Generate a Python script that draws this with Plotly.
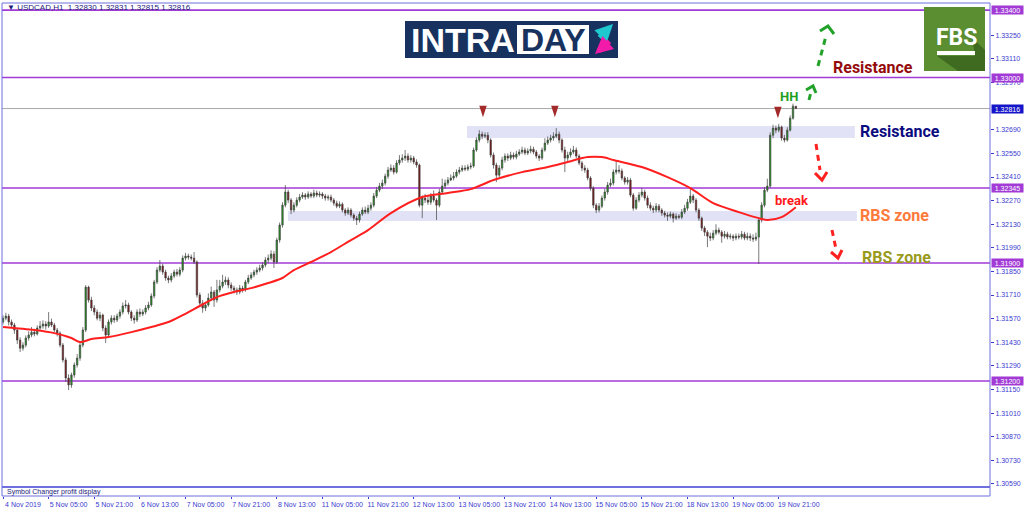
import plotly.graph_objects as go

# ---------------- data ----------------
time_labels = ["4 Nov 2019", "5 Nov 05:00", "5 Nov 21:00", "6 Nov 13:00", "7 Nov 05:00",
               "7 Nov 21:00", "8 Nov 13:00", "11 Nov 05:00", "11 Nov 21:00", "12 Nov 13:00",
               "13 Nov 05:00", "13 Nov 21:00", "14 Nov 13:00", "15 Nov 05:00", "15 Nov 21:00",
               "18 Nov 13:00", "19 Nov 05:00", "19 Nov 21:00"]
label_bars = [0, 16, 32, 48, 64, 80, 96, 112, 128, 144, 160, 176, 192, 208, 224, 240, 256, 272]

opens = [
    1.31550, 1.31573, 1.31585, 1.31550, 1.31532, 1.31502, 1.31443, 1.31395, 1.31413, 1.31455,
    1.31473, 1.31490, 1.31479, 1.31514, 1.31526, 1.31538, 1.31526, 1.31550, 1.31532, 1.31502,
    1.31484, 1.31413, 1.31325, 1.31218, 1.31177, 1.31236, 1.31295, 1.31336, 1.31413, 1.31502,
    1.31757, 1.31680, 1.31633, 1.31609, 1.31573, 1.31591, 1.31514, 1.31473, 1.31550, 1.31573,
    1.31562, 1.31585, 1.31609, 1.31645, 1.31651, 1.31609, 1.31573, 1.31562, 1.31609, 1.31597,
    1.31609, 1.31633, 1.31651, 1.31704, 1.31787, 1.31858, 1.31882, 1.31846, 1.31811, 1.31799,
    1.31823, 1.31846, 1.31834, 1.31858, 1.31929, 1.31941, 1.31935, 1.31929, 1.31906, 1.31710,
    1.31662, 1.31633, 1.31651, 1.31692, 1.31728, 1.31680, 1.31740, 1.31763, 1.31787, 1.31799,
    1.31769, 1.31751, 1.31740, 1.31728, 1.31751, 1.31740, 1.31787, 1.31811, 1.31829, 1.31846,
    1.31858, 1.31870, 1.31888, 1.31918, 1.31929, 1.31953, 1.31906, 1.32036, 1.32125, 1.32243,
    1.32321, 1.32273, 1.32214, 1.32243, 1.32273, 1.32291, 1.32303, 1.32291, 1.32309, 1.32297,
    1.32315, 1.32303, 1.32309, 1.32297, 1.32285, 1.32291, 1.32273, 1.32255, 1.32237, 1.32249,
    1.32214, 1.32196, 1.32214, 1.32184, 1.32166, 1.32155, 1.32190, 1.32214, 1.32202, 1.32225,
    1.32243, 1.32297, 1.32332, 1.32356, 1.32374, 1.32415, 1.32451, 1.32463, 1.32439, 1.32493,
    1.32511, 1.32522, 1.32534, 1.32511, 1.32522, 1.32499, 1.32481, 1.32243, 1.32285, 1.32273,
    1.32261, 1.32297, 1.32273, 1.32243, 1.32321, 1.32356, 1.32374, 1.32392, 1.32404, 1.32415,
    1.32439, 1.32451, 1.32463, 1.32457, 1.32469, 1.32475, 1.32570, 1.32629, 1.32664, 1.32652,
    1.32658, 1.32629, 1.32540, 1.32481, 1.32421, 1.32463, 1.32511, 1.32534, 1.32522, 1.32540,
    1.32528, 1.32546, 1.32558, 1.32570, 1.32552, 1.32564, 1.32575, 1.32558, 1.32534, 1.32522,
    1.32570, 1.32611, 1.32629, 1.32641, 1.32652, 1.32664, 1.32629, 1.32570, 1.32522, 1.32540,
    1.32558, 1.32570, 1.32534, 1.32493, 1.32463, 1.32451, 1.32404, 1.32344, 1.32243, 1.32214,
    1.32237, 1.32285, 1.32321, 1.32362, 1.32374, 1.32439, 1.32451, 1.32445, 1.32404, 1.32380,
    1.32392, 1.32303, 1.32225, 1.32273, 1.32303, 1.32321, 1.32285, 1.32243, 1.32225, 1.32214,
    1.32237, 1.32214, 1.32196, 1.32184, 1.32178, 1.32190, 1.32166, 1.32178, 1.32172, 1.32202,
    1.32225, 1.32261, 1.32297, 1.32273, 1.32214, 1.32166, 1.32107, 1.32083, 1.32059, 1.32048,
    1.32077, 1.32095, 1.32083, 1.32059, 1.32071, 1.32054, 1.32059, 1.32048, 1.32059, 1.32054,
    1.32071, 1.32048, 1.32059, 1.32048, 1.32042, 1.32054, 1.32155, 1.32243, 1.32332, 1.32356,
    1.32658, 1.32700, 1.32688, 1.32706, 1.32641, 1.32629, 1.32688, 1.32759, 1.32830]

highs = [
    1.31590, 1.31605, 1.31598, 1.31565, 1.31545, 1.31515, 1.31460, 1.31430, 1.31470, 1.31495,
    1.31520, 1.31510, 1.31530, 1.31555, 1.31560, 1.31555, 1.31609, 1.31570, 1.31545, 1.31515,
    1.31495, 1.31425, 1.31340, 1.31240, 1.31250, 1.31310, 1.31360, 1.31430, 1.31520, 1.31769,
    1.31765, 1.31700, 1.31650, 1.31625, 1.31610, 1.31600, 1.31530, 1.31565, 1.31590, 1.31590,
    1.31600, 1.31625, 1.31665, 1.31680, 1.31665, 1.31620, 1.31590, 1.31625, 1.31630, 1.31625,
    1.31650, 1.31670, 1.31720, 1.31800, 1.31875, 1.31918, 1.31895, 1.31860, 1.31825, 1.31840,
    1.31860, 1.31865, 1.31875, 1.31945, 1.31960, 1.31955, 1.31950, 1.31965, 1.31915, 1.31725,
    1.31680, 1.31670, 1.31720, 1.31760, 1.31740, 1.31800, 1.31800, 1.31830, 1.31820, 1.31815,
    1.31785, 1.31765, 1.31755, 1.31770, 1.31765, 1.31800, 1.31830, 1.31845, 1.31860, 1.31875,
    1.31890, 1.31905, 1.31935, 1.31950, 1.31975, 1.31970, 1.32050, 1.32140, 1.32260, 1.32362,
    1.32335, 1.32285, 1.32260, 1.32290, 1.32310, 1.32320, 1.32315, 1.32325, 1.32320, 1.32335,
    1.32330, 1.32325, 1.32320, 1.32310, 1.32305, 1.32305, 1.32285, 1.32270, 1.32265, 1.32260,
    1.32225, 1.32230, 1.32225, 1.32195, 1.32180, 1.32205, 1.32230, 1.32235, 1.32245, 1.32260,
    1.32315, 1.32350, 1.32375, 1.32395, 1.32430, 1.32470, 1.32485, 1.32480, 1.32510, 1.32540,
    1.32545, 1.32570, 1.32550, 1.32540, 1.32535, 1.32515, 1.32490, 1.32300, 1.32310, 1.32300,
    1.32315, 1.32330, 1.32285, 1.32340, 1.32400, 1.32395, 1.32410, 1.32425, 1.32440, 1.32455,
    1.32470, 1.32480, 1.32480, 1.32485, 1.32495, 1.32585, 1.32645, 1.32688, 1.32680, 1.32675,
    1.32676, 1.32640, 1.32555, 1.32495, 1.32480, 1.32530, 1.32550, 1.32550, 1.32560, 1.32555,
    1.32565, 1.32575, 1.32590, 1.32585, 1.32580, 1.32595, 1.32590, 1.32570, 1.32545, 1.32585,
    1.32640, 1.32650, 1.32660, 1.32675, 1.32700, 1.32680, 1.32640, 1.32590, 1.32560, 1.32580,
    1.32595, 1.32585, 1.32545, 1.32505, 1.32480, 1.32465, 1.32415, 1.32355, 1.32255, 1.32255,
    1.32300, 1.32340, 1.32380, 1.32400, 1.32455, 1.32511, 1.32480, 1.32460, 1.32415, 1.32410,
    1.32405, 1.32315, 1.32290, 1.32320, 1.32345, 1.32335, 1.32300, 1.32260, 1.32240, 1.32255,
    1.32250, 1.32225, 1.32210, 1.32200, 1.32205, 1.32200, 1.32195, 1.32190, 1.32220, 1.32245,
    1.32280, 1.32344, 1.32310, 1.32285, 1.32225, 1.32175, 1.32120, 1.32095, 1.32080, 1.32095,
    1.32130, 1.32110, 1.32095, 1.32090, 1.32085, 1.32075, 1.32070, 1.32075, 1.32075, 1.32090,
    1.32085, 1.32080, 1.32075, 1.32070, 1.32080, 1.32170, 1.32260, 1.32350, 1.32400, 1.32675,
    1.32720, 1.32715, 1.32725, 1.32715, 1.32660, 1.32705, 1.32775, 1.32845, 1.32831]

lows = [
    1.31535, 1.31560, 1.31530, 1.31515, 1.31480, 1.31420, 1.31372, 1.31380, 1.31400, 1.31440,
    1.31460, 1.31465, 1.31470, 1.31500, 1.31510, 1.31505, 1.31515, 1.31520, 1.31490, 1.31465,
    1.31400, 1.31310, 1.31195, 1.31147, 1.31160, 1.31220, 1.31280, 1.31320, 1.31400, 1.31490,
    1.31665, 1.31615, 1.31590, 1.31560, 1.31555, 1.31495, 1.31425, 1.31460, 1.31535, 1.31545,
    1.31550, 1.31570, 1.31595, 1.31630, 1.31595, 1.31555, 1.31540, 1.31550, 1.31580, 1.31585,
    1.31595, 1.31620, 1.31640, 1.31690, 1.31775, 1.31845, 1.31830, 1.31795, 1.31780, 1.31785,
    1.31810, 1.31820, 1.31820, 1.31845, 1.31915, 1.31920, 1.31915, 1.31895, 1.31695, 1.31640,
    1.31605, 1.31615, 1.31640, 1.31675, 1.31640, 1.31665, 1.31725, 1.31750, 1.31770, 1.31750,
    1.31735, 1.31720, 1.31710, 1.31715, 1.31725, 1.31730, 1.31775, 1.31800, 1.31815, 1.31830,
    1.31845, 1.31855, 1.31875, 1.31900, 1.31915, 1.31870, 1.31895, 1.32020, 1.32110, 1.32230,
    1.32255, 1.32190, 1.32200, 1.32230, 1.32260, 1.32280, 1.32275, 1.32280, 1.32285, 1.32285,
    1.32290, 1.32290, 1.32280, 1.32270, 1.32270, 1.32260, 1.32240, 1.32225, 1.32225, 1.32200,
    1.32180, 1.32185, 1.32170, 1.32150, 1.32125, 1.32140, 1.32180, 1.32190, 1.32190, 1.32210,
    1.32230, 1.32285, 1.32320, 1.32340, 1.32360, 1.32400, 1.32440, 1.32425, 1.32430, 1.32480,
    1.32495, 1.32505, 1.32495, 1.32495, 1.32485, 1.32465, 1.32230, 1.32166, 1.32255, 1.32245,
    1.32245, 1.32260, 1.32155, 1.32230, 1.32310, 1.32340, 1.32360, 1.32385, 1.32390, 1.32405,
    1.32425, 1.32440, 1.32445, 1.32445, 1.32455, 1.32465, 1.32560, 1.32615, 1.32635, 1.32640,
    1.32610, 1.32525, 1.32460, 1.32380, 1.32410, 1.32450, 1.32495, 1.32505, 1.32510, 1.32515,
    1.32515, 1.32535, 1.32545, 1.32540, 1.32540, 1.32550, 1.32545, 1.32520, 1.32505, 1.32510,
    1.32560, 1.32600, 1.32615, 1.32625, 1.32640, 1.32610, 1.32555, 1.32439, 1.32505, 1.32525,
    1.32545, 1.32520, 1.32480, 1.32445, 1.32435, 1.32390, 1.32330, 1.32225, 1.32196, 1.32200,
    1.32225, 1.32270, 1.32305, 1.32350, 1.32360, 1.32425, 1.32430, 1.32390, 1.32365, 1.32365,
    1.32290, 1.32210, 1.32215, 1.32260, 1.32290, 1.32270, 1.32225, 1.32210, 1.32196, 1.32200,
    1.32200, 1.32180, 1.32170, 1.32150, 1.32165, 1.32140, 1.32155, 1.32160, 1.32160, 1.32190,
    1.32210, 1.32250, 1.32255, 1.32200, 1.32150, 1.32090, 1.32060, 1.31994, 1.32030, 1.32035,
    1.32065, 1.32070, 1.32020, 1.32045, 1.32040, 1.32040, 1.32030, 1.32035, 1.32040, 1.32040,
    1.32035, 1.32035, 1.32030, 1.32025, 1.32030, 1.31894, 1.32140, 1.32230, 1.32320, 1.32345,
    1.32640, 1.32670, 1.32675, 1.32625, 1.32615, 1.32620, 1.32680, 1.32750, 1.32815]

closes = [
    1.31573, 1.31585, 1.31550, 1.31532, 1.31502, 1.31443, 1.31395, 1.31413, 1.31455, 1.31473,
    1.31490, 1.31479, 1.31514, 1.31526, 1.31538, 1.31526, 1.31550, 1.31532, 1.31502, 1.31484,
    1.31413, 1.31325, 1.31218, 1.31177, 1.31236, 1.31295, 1.31336, 1.31413, 1.31502, 1.31757,
    1.31680, 1.31633, 1.31609, 1.31573, 1.31591, 1.31514, 1.31473, 1.31550, 1.31573, 1.31562,
    1.31585, 1.31609, 1.31645, 1.31651, 1.31609, 1.31573, 1.31562, 1.31609, 1.31597, 1.31609,
    1.31633, 1.31651, 1.31704, 1.31787, 1.31858, 1.31882, 1.31846, 1.31811, 1.31799, 1.31823,
    1.31846, 1.31834, 1.31858, 1.31929, 1.31941, 1.31935, 1.31929, 1.31906, 1.31710, 1.31662,
    1.31633, 1.31651, 1.31692, 1.31728, 1.31680, 1.31740, 1.31763, 1.31787, 1.31799, 1.31769,
    1.31751, 1.31740, 1.31728, 1.31751, 1.31740, 1.31787, 1.31811, 1.31829, 1.31846, 1.31858,
    1.31870, 1.31888, 1.31918, 1.31929, 1.31953, 1.31906, 1.32036, 1.32125, 1.32243, 1.32321,
    1.32273, 1.32214, 1.32243, 1.32273, 1.32291, 1.32303, 1.32291, 1.32309, 1.32297, 1.32315,
    1.32303, 1.32309, 1.32297, 1.32285, 1.32291, 1.32273, 1.32255, 1.32237, 1.32249, 1.32214,
    1.32196, 1.32214, 1.32184, 1.32166, 1.32155, 1.32190, 1.32214, 1.32202, 1.32225, 1.32243,
    1.32297, 1.32332, 1.32356, 1.32374, 1.32415, 1.32451, 1.32463, 1.32439, 1.32493, 1.32511,
    1.32522, 1.32534, 1.32511, 1.32522, 1.32499, 1.32481, 1.32243, 1.32285, 1.32273, 1.32261,
    1.32297, 1.32273, 1.32243, 1.32321, 1.32356, 1.32374, 1.32392, 1.32404, 1.32415, 1.32439,
    1.32451, 1.32463, 1.32457, 1.32469, 1.32475, 1.32570, 1.32629, 1.32664, 1.32652, 1.32658,
    1.32629, 1.32540, 1.32481, 1.32421, 1.32463, 1.32511, 1.32534, 1.32522, 1.32540, 1.32528,
    1.32546, 1.32558, 1.32570, 1.32552, 1.32564, 1.32575, 1.32558, 1.32534, 1.32522, 1.32570,
    1.32611, 1.32629, 1.32641, 1.32652, 1.32664, 1.32629, 1.32570, 1.32522, 1.32540, 1.32558,
    1.32570, 1.32534, 1.32493, 1.32463, 1.32451, 1.32404, 1.32344, 1.32243, 1.32214, 1.32237,
    1.32285, 1.32321, 1.32362, 1.32374, 1.32439, 1.32451, 1.32445, 1.32404, 1.32380, 1.32392,
    1.32303, 1.32225, 1.32273, 1.32303, 1.32321, 1.32285, 1.32243, 1.32225, 1.32214, 1.32237,
    1.32214, 1.32196, 1.32184, 1.32178, 1.32190, 1.32166, 1.32178, 1.32172, 1.32202, 1.32225,
    1.32261, 1.32297, 1.32273, 1.32214, 1.32166, 1.32107, 1.32083, 1.32059, 1.32048, 1.32077,
    1.32095, 1.32083, 1.32059, 1.32071, 1.32054, 1.32059, 1.32048, 1.32059, 1.32054, 1.32071,
    1.32048, 1.32059, 1.32048, 1.32042, 1.32054, 1.32155, 1.32243, 1.32332, 1.32356, 1.32658,
    1.32700, 1.32688, 1.32706, 1.32641, 1.32629, 1.32688, 1.32759, 1.32830, 1.32816]

# moving average (red line), read at selected bars
ma_bars = [0, 11, 18, 24, 27, 31, 37, 45, 52, 58, 63, 69, 75, 81, 87, 93, 98, 102, 108, 115,
           122, 128, 136, 147, 156, 164, 172, 182, 191, 198, 205, 210, 214, 224, 233, 241, 249,
           258, 265, 268, 273, 278]
ma_vals = [1.31520, 1.31502, 1.31484, 1.31455, 1.31431, 1.31449, 1.31461, 1.31490, 1.31520,
           1.31550, 1.31591, 1.31645, 1.31698, 1.31728, 1.31751, 1.31781, 1.31811, 1.31858,
           1.31906, 1.31965, 1.32036, 1.32095, 1.32196, 1.32291, 1.32315, 1.32338, 1.32392,
           1.32439, 1.32469, 1.32499, 1.32528, 1.32528, 1.32511, 1.32469, 1.32409, 1.32344,
           1.32255, 1.32202, 1.32166, 1.32155, 1.32172, 1.32231]

# horizontal levels
levels = [1.33400, 1.33000, 1.32345, 1.31900, 1.31200]
last_price = 1.32816

# y axis ticks
y_ticks = [1.30590, 1.30730, 1.30870, 1.31010, 1.31150, 1.31290, 1.31430, 1.31570, 1.31710,
           1.31850, 1.31990, 1.32130, 1.32270, 1.32410, 1.32550, 1.32690, 1.32970, 1.33110,
           1.33250]

# zones (bar range, price range)
resistance_zone = dict(x0=162.7, x1=298.7, y0=1.32641, y1=1.32712)
rbs_zone = dict(x0=99.9, x1=299.4, y0=1.32149, y1=1.32208)

# peak markers
peak_bars = [168.3, 193.5, 271.7]
peak_marks = [1.32765, 1.32765, 1.32759]

header_text = "▼ USDCAD,H1  1.32830 1.32831 1.32815 1.32816"

# ---------------- figure ----------------
W, H = 1024, 511
ML, MR, MT, MB = 2, 34, 3, 15
PLOT_W = W - ML - MR   # 988
PLOT_H = H - MT - MB   # 493
MAIN_BOTTOM_PX = 487
BAR_PX = 2.852


def px_x(p):
    return (p - ML) / PLOT_W


def px_y(p):
    return (H - MB - p) / PLOT_H


bars = list(range(len(closes)))

fig = go.Figure()

fig.add_trace(go.Candlestick(
    x=bars, open=opens, high=highs, low=lows, close=closes,
    increasing=dict(fillcolor="#1c9e1c", line=dict(color="#404040", width=0.7)),
    decreasing=dict(fillcolor="#8a0f0f", line=dict(color="#404040", width=0.7)),
    whiskerwidth=0, hoverinfo="skip", showlegend=False))

fig.add_trace(go.Scatter(
    x=ma_bars, y=ma_vals, mode="lines",
    line=dict(color="#ff1f1f", width=2, shape="spline", smoothing=0.8),
    hoverinfo="skip", showlegend=False))

fig.add_trace(go.Scatter(
    x=peak_bars, y=peak_marks, mode="markers",
    marker=dict(symbol="arrow", angle=180, size=12, color="#a32a2a"),
    hoverinfo="skip", showlegend=False))

shapes = []
# zones
for z in (resistance_zone, rbs_zone):
    shapes.append(dict(type="rect", xref="x", yref="y", layer="below",
                       line=dict(width=0), fillcolor="#e2e2f7", **z))
# level lines
for lv in levels:
    shapes.append(dict(type="line", xref="paper", yref="y", x0=0, x1=1, y0=lv, y1=lv,
                       line=dict(color="#a23bd6", width=1.6), layer="below"))
shapes.append(dict(type="line", xref="paper", yref="y", x0=0, x1=1, y0=last_price,
                   y1=last_price, line=dict(color="#a8a8a8", width=1), layer="below"))

# frame
frame_col = "#6f6fe0"
main_bot = px_y(MAIN_BOTTOM_PX)
shapes.append(dict(type="line", xref="paper", yref="paper", x0=0, x1=0, y0=0, y1=1,
                   line=dict(color=frame_col, width=1)))
shapes.append(dict(type="line", xref="paper", yref="paper", x0=1, x1=1, y0=0, y1=1,
                   line=dict(color=frame_col, width=1)))
shapes.append(dict(type="line", xref="paper", yref="paper", x0=0, x1=1, y0=1, y1=1,
                   line=dict(color=frame_col, width=1)))
shapes.append(dict(type="line", xref="paper", yref="paper", x0=0, x1=1, y0=main_bot,
                   y1=main_bot, line=dict(color=frame_col, width=2)))
shapes.append(dict(type="line", xref="paper", yref="paper", x0=0, x1=1, y0=0, y1=0,
                   line=dict(color=frame_col, width=1)))

# INTRADAY logo
shapes.append(dict(type="rect", xref="paper", yref="paper", x0=px_x(405), x1=px_x(618),
                   y0=px_y(58), y1=px_y(21), fillcolor="#17325e", line=dict(width=0)))
shapes.append(dict(type="rect", xref="paper", yref="paper", x0=px_x(517), x1=px_x(589),
                   y0=px_y(54), y1=px_y(25), fillcolor="white", line=dict(width=0)))

# FBS logo
shapes.append(dict(type="rect", xref="paper", yref="paper", x0=px_x(924), x1=px_x(985),
                   y0=px_y(71), y1=px_y(7), fillcolor="#5b8d31", line=dict(width=0)))


def path_px(points, close=True):
    s = "M " + " L ".join(f"{px_x(a):.5f},{px_y(b):.5f}" for a, b in points)
    return s + (" Z" if close else "")


shapes.append(dict(type="path", xref="paper", yref="paper",
                   path=path_px([(972, 38), (985, 50), (985, 71), (958, 71), (937, 56), (975, 56)]),
                   fillcolor="#3e6b20", line=dict(width=0)))
shapes.append(dict(type="rect", xref="paper", yref="paper", x0=px_x(937), x1=px_x(975),
                   y0=px_y(55), y1=px_y(51), fillcolor="white", line=dict(width=0)))

# dashed arrows
arrows = [
    ("#22a22a", (818, 66), (826, 36), [(820, 31), (828, 26), (834, 34)]),
    ("#22a22a", (809, 100), (811, 92), [(806, 90), (813, 86), (816, 93)]),
    ("#ff2020", (816, 144), (820, 170), [(815, 173), (822, 180), (827, 172)]),
    ("#ff2020", (832, 230), (836, 249), [(831, 252), (838, 258), (842, 250)]),
]
for col, (x0, y0), (x1, y1), chev in arrows:
    shapes.append(dict(type="line", xref="paper", yref="paper",
                       x0=px_x(x0), y0=px_y(y0), x1=px_x(x1), y1=px_y(y1),
                       line=dict(color=col, width=3, dash="6px,5px")))
    shapes.append(dict(type="path", xref="paper", yref="paper", path=path_px(chev, close=False),
                       line=dict(color=col, width=3)))

annotations = []


def note(text, x, y, size, color, family="Liberation Sans", xanchor="center", **kw):
    d = dict(xref="paper", yref="paper", x=px_x(x), y=px_y(y), xanchor=xanchor,
             yanchor="middle", text=text, showarrow=False,
             font=dict(family=family, size=size, color=color))
    d.update(kw)
    annotations.append(d)


# header
note(header_text, 5, 7, 8, "#1a1a7a", xanchor="left")
note("Symbol Changer profit display", 5, 492, 7, "#1a1a7a", xanchor="left")

# price boxes on right axis
for lv in levels:
    annotations.append(dict(xref="paper", yref="y", x=1, y=lv, xanchor="left", yanchor="middle",
                            text=f"{lv:.5f}", showarrow=False, bgcolor="#a23bd6", width=31,
                            height=8, borderpad=0, xshift=1,
                            font=dict(family="Liberation Sans", size=7, color="white")))
annotations.append(dict(xref="paper", yref="y", x=1, y=last_price, xanchor="left",
                        yanchor="middle", text=f"{last_price:.5f}", showarrow=False,
                        bgcolor="#1414c8", width=31, height=8, borderpad=0, xshift=1,
                        font=dict(family="Liberation Sans", size=7, color="white")))

# logo texts
note("<b>INTRA</b>", 463, 40, 34, "white")
note("<b>DAY</b>", 553, 40, 32, "#17325e")
annotations.append(dict(xref="paper", yref="paper", x=px_x(613), y=px_y(24), ax=-15, ay=15,
                        text="", showarrow=True, arrowhead=2, arrowsize=0.7, arrowwidth=5,
                        arrowcolor="#1fc9cf"))
annotations.append(dict(xref="paper", yref="paper", x=px_x(595), y=px_y(54), ax=16, ay=-14,
                        text="", showarrow=True, arrowhead=2, arrowsize=0.7, arrowwidth=5,
                        arrowcolor="#f21aa8"))
note("<b>FBS</b>", 956, 38, 23, "white", family="Roboto")

# chart labels
labels = [
    ("Resistance", 873, 68, "#950b0b", 16),
    ("Resistance", 900, 131, "#0b0b80", 16),
    ("HH", 789, 96, "#1f9f1f", 13),
    ("break", 792, 201, "#ff1a1a", 13),
    ("RBS zone", 894, 215, "#ff7a3a", 16),
    ("RBS zone", 896, 257, "#9a9a1c", 16),
]
for t, x, y, c, s in labels:
    note(f"<b>{t}</b>", x, y, s, c, family="Roboto")

axis_col = "#3a3ad0"
fig.update_layout(
    width=W, height=H,
    margin=dict(l=ML, r=MR, t=MT, b=MB, pad=0, autoexpand=False),
    paper_bgcolor="white", plot_bgcolor="white",
    showlegend=False, hovermode=False,
    shapes=shapes, annotations=annotations,
    xaxis=dict(range=[-0.35, -0.35 + PLOT_W / BAR_PX], tickvals=label_bars, ticktext=time_labels,
               anchor="free", position=0, showgrid=False, zeroline=False, showline=False,
               ticks="outside", ticklen=2, tickcolor=axis_col, ticklabelshift=20,
               ticklabelstandoff=0, automargin=False,
               tickfont=dict(family="Liberation Sans", size=7, color=axis_col),
               rangeslider=dict(visible=False), fixedrange=True),
    yaxis=dict(range=[1.305715, 1.33442], domain=[main_bot, 1], side="right",
               tickvals=y_ticks, tickformat=".5f", showgrid=False, zeroline=False,
               ticks="outside", ticklen=3, tickcolor=axis_col, showline=False, automargin=False,
               tickfont=dict(family="Liberation Sans", size=7, color=axis_col), fixedrange=True),
)

fig.write_html("out.html", config={"displayModeBar": False},
               post_script="document.body.style.margin='0px';")
